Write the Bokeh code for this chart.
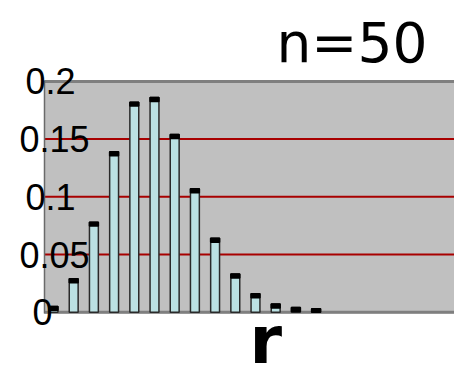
import numpy as np
from bokeh.plotting import figure
from bokeh.models import ColumnDataSource, Label, Range1d
from bokeh.embed import file_html
from bokeh.resources import INLINE

# Binomial probabilities for n = 50, read per outcome r
r_values = [0, 1, 2, 3, 4, 5, 6, 7, 8, 9, 10, 11, 12, 13]
probabilities = [0.005, 0.029, 0.078, 0.139, 0.182, 0.186, 0.154, 0.107,
                 0.064, 0.033, 0.016, 0.007, 0.004, 0.003]

y_ticks = [0, 0.05, 0.1, 0.15, 0.2]
y_tick_labels = ["0", "0.05", "0.1", "0.15", "0.2"]
grid_levels = [0.05, 0.1, 0.15]

title_text = "n=50"
x_label_text = "r"

# ---- layout (pixels) ----
W, H = 454, 379
X0_PX, X_STEP_PX = 53.0, 20.2        # pixel centre of r=0, pixels per category
Y0_PX, Y_UNIT_PX = 311.7, 1154.0     # pixel row of p=0, pixels per unit of p
AREA_LEFT, AREA_TOP, AREA_BOTTOM = 44, 81, 313
CAP = 0.0034                          # black cap at the top of every bar
BAR_WIDTH = 0.44


def px_x(px):
    return (px - X0_PX) / X_STEP_PX


def px_y(py):
    return (Y0_PX - py) / Y_UNIT_PX


bars = np.array(probabilities)
src = ColumnDataSource(dict(
    x=r_values,
    top=bars,
    cap_bottom=np.maximum(bars - CAP, 0.0),
))

# the frame covers the whole canvas so texts around the plot area are not clipped
p = figure(width=W, height=H, output_backend="svg", toolbar_location=None,
           x_axis_location=None, y_axis_location=None,
           x_range=Range1d(px_x(0), px_x(W)), y_range=Range1d(px_y(H), px_y(0)),
           min_border=0)
p.background_fill_color = "white"
p.border_fill_color = "white"
p.outline_line_color = None
p.xgrid.visible = False
p.ygrid.visible = False

x_left, x_right = px_x(AREA_LEFT), px_x(W + 5)

# grey plot area
p.quad(left=x_left, right=x_right, bottom=px_y(AREA_BOTTOM), top=px_y(AREA_TOP - 1),
       fill_color="#c0c0c0", line_color=None)

# red horizontal reference lines
p.segment(x0=[x_left] * len(grid_levels), x1=[x_right] * len(grid_levels),
          y0=grid_levels, y1=grid_levels, line_color="#a80000", line_width=2)

# plot-area edges
p.segment(x0=[x_left, x_left], x1=[x_right, x_right], y0=[0.2, 0.0], y1=[0.2, 0.0],
          line_color="#7f7f7f", line_width=3)
p.segment(x0=[x_left], x1=[x_left], y0=[px_y(AREA_BOTTOM)], y1=[px_y(AREA_TOP - 1)],
          line_color="#6a6a6a", line_width=1.5)

# bars with dark outline and black cap
p.vbar(x="x", top="top", bottom=0, width=BAR_WIDTH, source=src,
       fill_color="#bbe1e3", line_color="#2a2a2a", line_width=1.5)
p.vbar(x="x", top="top", bottom="cap_bottom", width=BAR_WIDTH, source=src,
       fill_color="black", line_color="black", line_width=1.5)

# y tick labels: left edge in px, vertical position at the tick value
label_left = {"0": 32, "0.05": 19, "0.1": 25, "0.15": 19, "0.2": 25}
for t, txt in zip(y_ticks, y_tick_labels):
    p.add_layout(Label(x=label_left[txt], y=t, x_units="screen", y_units="data",
                       text=txt, text_font="Liberation Sans",
                       text_font_size="36px", text_color="black",
                       text_align="left", text_baseline="middle"))

# title, vertically centred so its digits sit on row ~62
p.add_layout(Label(x=276, y=H - 42, x_units="screen", y_units="screen",
                   text=title_text, text_font="DejaVu Sans",
                   text_font_size="55px", text_color="black",
                   text_align="left", text_baseline="middle"))

# axis letter below the plot area, kept inside the canvas
p.add_layout(Label(x=249, y=H - 340, x_units="screen", y_units="screen",
                   text=x_label_text, text_font="DejaVu Sans",
                   text_font_style="bold", text_font_size="66px",
                   text_color="black", text_align="left",
                   text_baseline="middle"))

open("out.html", "w").write(file_html(p, INLINE))
